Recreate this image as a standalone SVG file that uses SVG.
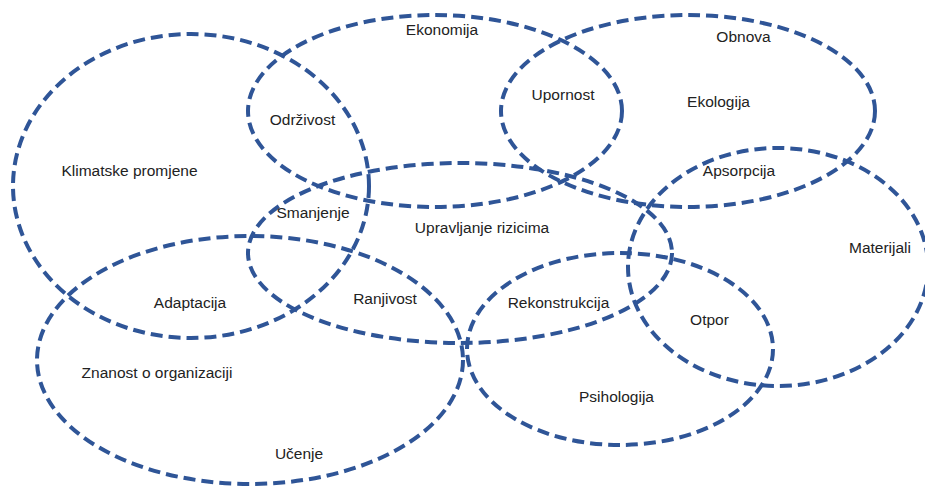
<svg xmlns="http://www.w3.org/2000/svg" width="925" height="486" viewBox="0 0 925 486">
<style>
.e{fill:none;stroke:#2F5597;stroke-width:4;stroke-dasharray:12 6}
.t{font-family:"Liberation Sans",Arial,sans-serif;font-size:15.5px;fill:#222;text-anchor:middle}
</style>
<rect width="925" height="486" fill="#fff"/>
<g id="klimatske"><ellipse class="e" cx="191" cy="186" rx="178" ry="152"/><text class="t" x="129.5" y="176">Klimatske promjene</text></g>
<g id="ekonomija"><ellipse class="e" cx="435" cy="111" rx="187" ry="96"/><text class="t" x="442" y="35">Ekonomija</text></g>
<g id="ekologija"><ellipse class="e" cx="688" cy="111" rx="187" ry="96"/><text class="t" x="743.5" y="42">Obnova</text><text class="t" x="718.5" y="107">Ekologija</text></g>
<g id="upravljanje"><ellipse class="e" cx="460" cy="253" rx="212" ry="90"/><text class="t" x="482" y="233">Upravljanje rizicima</text></g>
<g id="materijali"><ellipse class="e" cx="778" cy="267" rx="150" ry="119"/><text class="t" x="880" y="253">Materijali</text></g>
<g id="znanost"><ellipse class="e" cx="250" cy="360" rx="213" ry="124"/><text class="t" x="157" y="378">Znanost o organizaciji</text><text class="t" x="299" y="459">Učenje</text></g>
<g id="psihologija"><ellipse class="e" cx="620" cy="349" rx="153" ry="96"/><text class="t" x="616.5" y="402">Psihologija</text></g>
<g id="presjeci">
<text class="t" x="302.5" y="125">Održivost</text>
<text class="t" x="313" y="218">Smanjenje</text>
<text class="t" x="563" y="100">Upornost</text>
<text class="t" x="739" y="176">Apsorpcija</text>
<text class="t" x="190" y="308">Adaptacija</text>
<text class="t" x="385" y="304">Ranjivost</text>
<text class="t" x="558.5" y="308">Rekonstrukcija</text>
<text class="t" x="709.5" y="325">Otpor</text>
</g>
<g id="connectors"/>
</svg>
